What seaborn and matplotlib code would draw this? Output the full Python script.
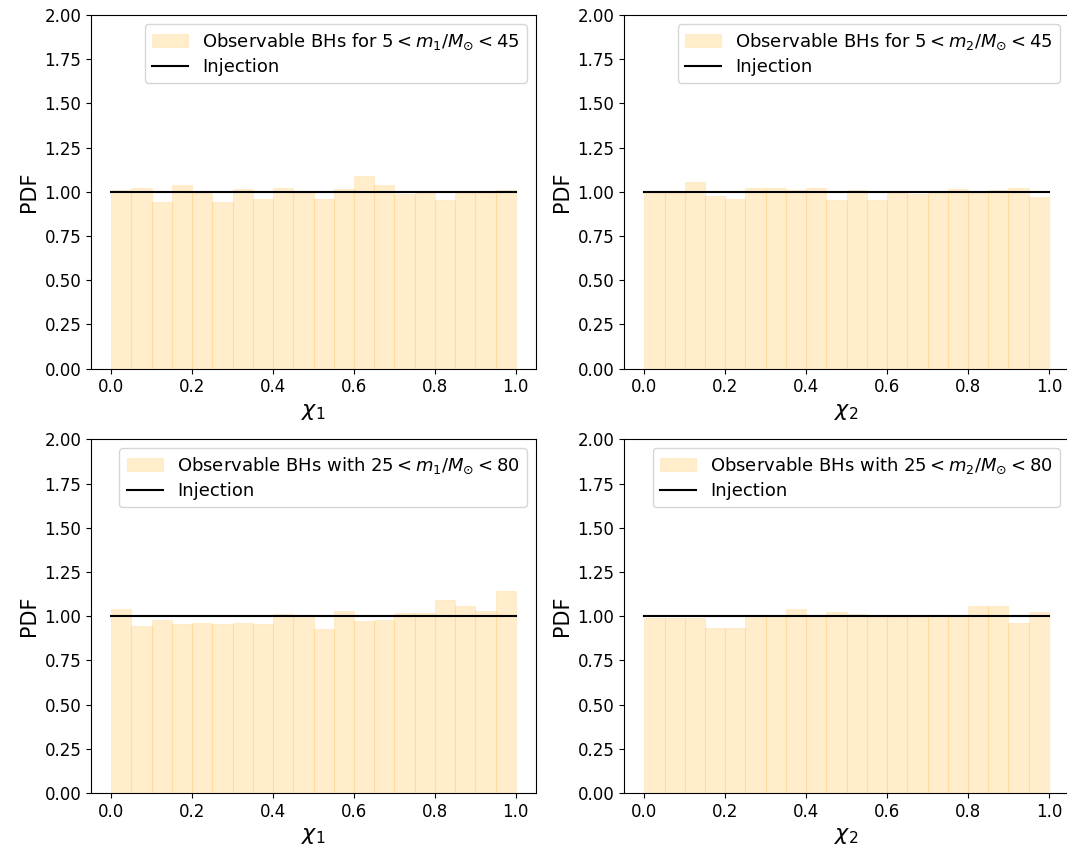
import pandas as pd
import matplotlib
matplotlib.use('Agg')
import matplotlib.pyplot as plt
import seaborn as sns

# bin edges for spin magnitude histograms
edges = [round(0.05 * i, 2) for i in range(21)]
centers = [round(0.05 * i + 0.025, 3) for i in range(20)]

# heights
chi1_low = [1.01, 1.023, 0.945, 1.036, 0.992, 0.945, 1.017, 0.962, 1.023, 0.992,
            0.962, 1.017, 1.092, 1.041, 0.986, 0.992, 0.956, 0.992, 0.992, 1.011]
chi2_low = [0.992, 0.992, 1.053, 0.979, 0.962, 1.023, 1.023, 1.011, 1.023, 0.956,
            1.011, 0.956, 0.992, 0.986, 0.992, 1.017, 0.992, 1.011, 1.023, 0.968]
chi1_high = [1.038, 0.947, 0.976, 0.953, 0.964, 0.953, 0.964, 0.953, 1.013, 1.008,
             0.925, 1.032, 0.970, 0.981, 1.019, 1.019, 1.089, 1.060, 1.032, 1.145]
chi2_high = [0.989, 0.989, 0.989, 0.936, 0.936, 1.008, 1.0, 1.038, 1.0, 1.026,
             1.013, 0.994, 0.994, 0.994, 1.008, 1.0, 1.055, 1.055, 0.959, 1.026]

panels = [
    (chi1_low, r'Observable BHs for $5 < m_1/M_{\odot} < 45$', r'$\chi_1$'),
    (chi2_low, r'Observable BHs for $5 < m_2/M_{\odot} < 45$', r'$\chi_2$'),
    (chi1_high, r'Observable BHs with $25 < m_1/M_{\odot} < 80$', r'$\chi_1$'),
    (chi2_high, r'Observable BHs with $25 < m_2/M_{\odot} < 80$', r'$\chi_2$'),
]

fig, axes = plt.subplots(2, 2, figsize=(10.67, 8.55), dpi=100)
fig.subplots_adjust(left=0.0853, right=1.002, top=0.9825, bottom=0.0725,
                    wspace=0.198, hspace=0.2)

for ax, (h, lab, xl) in zip(axes.flat, panels):
    df = pd.DataFrame({'chi': centers, 'w': h})
    sns.histplot(data=df, x='chi', weights='w', bins=edges, color='orange', alpha=0.2,
                 edgecolor=(1, 0.65, 0, 0.12), linewidth=0.8, ax=ax, label=lab)
    sns.lineplot(x=[0, 1], y=[1, 1], color='black', lw=1.5, ax=ax, label='Injection')
    ax.set_ylim(0, 2)
    ax.set_xlabel(xl, fontsize=16)
    ax.set_ylabel('PDF', fontsize=15)
    ax.tick_params(labelsize=12)
    handles, labels = ax.get_legend_handles_labels()
    ax.legend(handles[::-1], labels[::-1], loc='upper right', fontsize=13,
              labelspacing=0.35, borderaxespad=0.5)

plt.savefig('out.png', dpi=100)
